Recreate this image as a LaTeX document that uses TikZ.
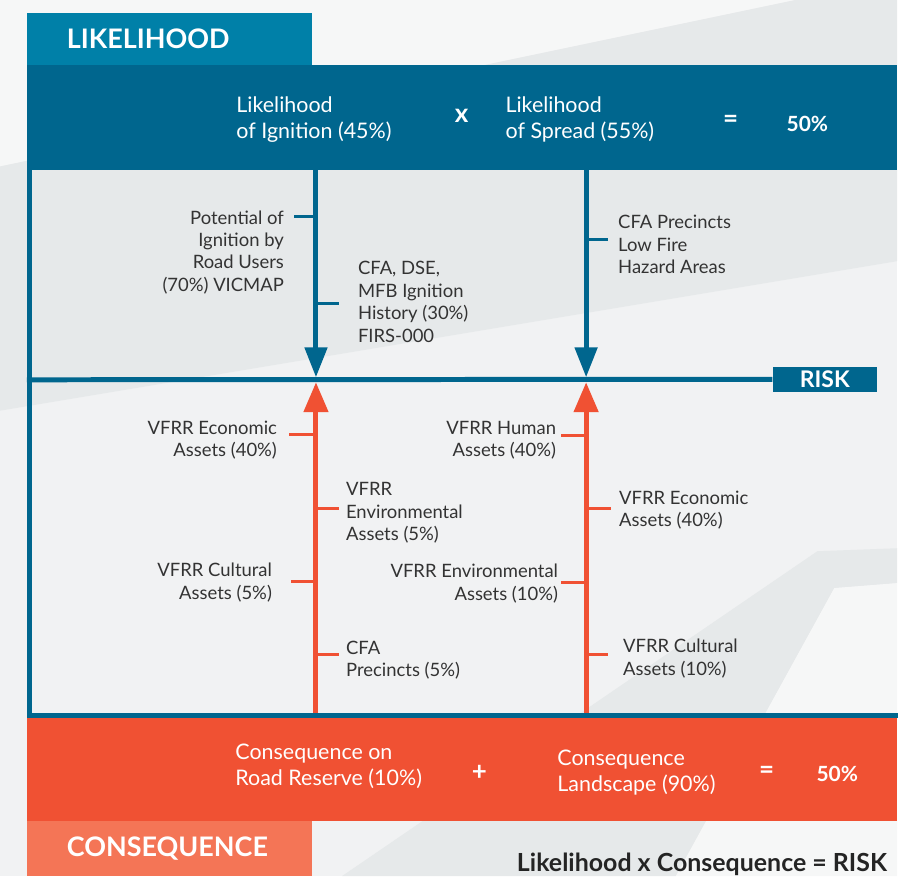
\documentclass[tikz,border=0pt]{standalone}
\usepackage{fontspec}
\setmainfont{Lato}
\usepackage{xcolor}
\definecolor{deep}{HTML}{00668E}
\definecolor{tabblue}{HTML}{0080A8}
\definecolor{flame}{HTML}{F05133}
\definecolor{tabflame}{HTML}{F47556}
\definecolor{ink}{HTML}{333333}
\definecolor{paper}{HTML}{F1F2F3}
\definecolor{haze}{HTML}{E6E9EA}
\definecolor{pale}{HTML}{F6F7F7}
\usetikzlibrary{arrows.meta,positioning,calc}
\tikzset{
  lbl/.style={font=\fontsize{18.5}{22.5}\selectfont, text=ink, inner sep=0pt},
  lblL/.style={lbl, align=left, anchor=north west},
  lblR/.style={lbl, align=right, anchor=north east},
  bandtxt/.style={font=\fontsize{21.5}{26}\selectfont, text=white, inner sep=0pt, align=left, anchor=north west},
  op/.style={font=\bfseries\fontsize{26}{26}\selectfont, text=white, inner sep=0pt},
  pct/.style={font=\bfseries\fontsize{21}{21}\selectfont, text=white, inner sep=0pt, anchor=west},
  band/.style={anchor=north west, inner sep=0pt, minimum width=873pt, minimum height=#1},
  tabbox/.style={anchor=north west, inner xsep=40pt, inner ysep=0pt, text width=206pt,
    minimum height=#1, align=left, text=white, font=\bfseries\fontsize{27}{27}\selectfont},
  riskbox/.style={fill=deep, text=white, minimum width=105pt, minimum height=25pt,
    inner sep=0pt, font=\bfseries\fontsize{23}{23}\selectfont},
  barrow/.style={draw=deep, line width=5pt, -{Triangle[width=22pt,length=30pt]}},
  oarrow/.style={draw=flame, line width=5pt, -{Triangle[width=24pt,length=30pt]}},
  btick/.style={draw=deep, line width=3pt},
  otick/.style={draw=flame, line width=3pt},
}

\begin{document}
\begin{tikzpicture}[x=1pt, y=-1pt]
  % background
  \fill[paper] (0,0) rectangle (900,879);
  \fill[pale] (0,0) -- (798,0) -- (0,167) -- cycle;
  \fill[haze] (0,167) -- (798,0) -- (900,0) -- (900,262) -- (0,412) -- cycle;
  \fill[haze] (343,879) -- (820,553) -- (900,550) -- (900,585) -- (837,590) -- (678,879) -- cycle;
  \fill[pale] (678,879) -- (837,590) -- (900,585) -- (900,879) -- cycle;

  % tabs and bands
  \node[tabbox=52pt, fill=tabblue] (liktab) at (27,13) {LIKELIHOOD};
  \node[band=105pt, fill=deep] (lband) at (27,65) {};
  \node[band=103pt, fill=flame] (cband) at (27,720) {};
  \node[tabbox=56pt, fill=tabflame] (contab) at (27,823) {CONSEQUENCE};

  % likelihood formula
  \node[bandtxt] (ign) at (237,97) {Likelihood\\of Ignition (45\%)};
  \node[op] (times) at (463,116) {x};
  \node[bandtxt] (spr) at (507,97) {Likelihood\\of Spread (55\%)};
  \node[op] (eq1) at (733,122) {=};
  \node[pct] (res1) at (789,124) {50\%};

  % consequence formula
  \node[bandtxt] (road) at (236,746) {Consequence on\\Road Reserve (10\%)};
  \node[op] (plus) at (481,775) {+};
  \node[bandtxt] (land) at (559,752) {Consequence\\Landscape (90\%)};
  \node[op] (eq2) at (769,775) {=};
  \node[pct] (res2) at (819,776) {50\%};

  % risk line
  \node[riskbox] (risk) at (827.5,380.5) {RISK};
  \coordinate (r1) at (317,381);
  \coordinate (r2) at (588,381);
  \draw[deep, line width=5pt] (r1 -| lband.west) -- (risk.west);

  % arrows
  \foreach \r in {r1, r2} {
    \draw[oarrow] (cband.north -| \r) -- ([yshift=-2.5pt]\r);
    \draw[barrow] (lband.south -| \r) -- ([yshift=2.5pt]\r);
  }
  \draw[deep, line width=5pt] ([xshift=2.5pt]lband.south west) |- ([yshift=2.5pt]cband.north east);

  % ticks
  \foreach \x/\y/\d in {317/217/-22, 317/304/23, 588/240/22}
    \draw[btick] (\x,\y) -- ++(\d,0);
  \foreach \x/\y/\d in {317/436/-27, 317/510/23, 317/583/-25, 317/657/23,
                        588/437/-25, 588/510/25, 588/584/-25, 588/657/22}
    \draw[otick] (\x,\y) -- ++(\d,0);

  % likelihood inputs
  \node[lblR] (pot) at (285,211) {Potential of\\Ignition by\\Road Users\\(70\%) VICMAP};
  \node[lblL] (hist) at (359,262) {CFA, DSE,\\MFB Ignition\\History (30\%)\\FIRS-000};
  \node[lblL] (prec) at (620,216) {CFA Precincts\\Low Fire\\Hazard Areas};

  % consequence inputs
  \node[lblR] (econA) at (278,422) {VFRR Economic\\Assets (40\%)};
  \node[lblL] (envA) at (347,484) {VFRR\\Environmental\\Assets (5\%)};
  \node[lblR] (cultA) at (273,565) {VFRR Cultural\\Assets (5\%)};
  \node[lblL] (cfaA) at (347,643) {CFA\\Precincts (5\%)};
  \node[lblR] (humB) at (558,422) {VFRR Human\\Assets (40\%)};
  \node[lblL] (econB) at (621,492) {VFRR Economic\\Assets (40\%)};
  \node[lblR] (envB) at (560,566) {VFRR Environmental\\Assets (10\%)};
  \node[lblL] (cultB) at (625,641) {VFRR Cultural\\Assets (10\%)};

  \node[font=\bfseries\fontsize{25}{25}\selectfont, text=ink!70!black, anchor=east, inner sep=0pt]
    (formula) at (890,867) {Likelihood x Consequence = RISK};
\end{tikzpicture}
\end{document}
